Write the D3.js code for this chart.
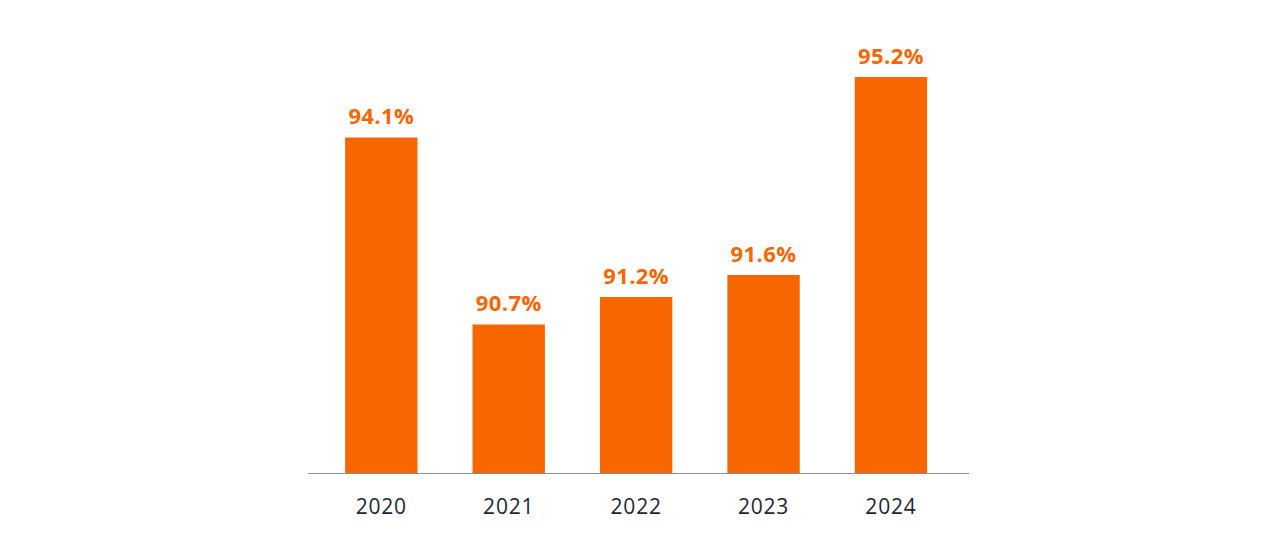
<!DOCTYPE html>
<html><head><meta charset="utf-8">
<script src="https://cdn.jsdelivr.net/npm/d3@7"></script>
<style>html,body{margin:0;padding:0;background:#fff;}svg{display:block;}</style>
</head><body>
<svg id="chart" width="1280" height="558"></svg>
<script>
const years = ["2020", "2021", "2022", "2023", "2024"];
const values = [94.1, 90.7, 91.2, 91.6, 95.2];
const labels = ["94.1%", "90.7%", "91.2%", "91.6%", "95.2%"];

const svg = d3.select("#chart");
const baseY = 473;
const x = d3.scaleBand().domain(years).range([308, 969])
  .paddingInner(0.432).paddingOuter(0.31).align(0.47);
const y = d3.scaleLinear().domain([88, 96]).range([baseY, baseY - 8 * 55.0]);

const orange = "#F86600";

svg.selectAll("rect.bar").data(years).join("rect")
  .attr("class", "bar")
  .attr("x", d => x(d))
  .attr("width", x.bandwidth())
  .attr("y", (d, i) => y(values[i]))
  .attr("height", (d, i) => baseY - y(values[i]))
  .attr("fill", orange);

svg.selectAll("text.val").data(years).join("text")
  .attr("class", "val")
  .attr("x", d => x(d) + x.bandwidth() / 2)
  .attr("y", (d, i) => y(values[i]) - 13.5)
  .attr("text-anchor", "middle")
  .attr("font-family", "'Open Sans', sans-serif")
  .attr("font-weight", 700)
  .attr("font-size", 22)
  .attr("letter-spacing", 0.4)
  .attr("fill", orange)
  .text((d, i) => labels[i]);

const axis = d3.axisBottom(x).tickSize(0).tickPadding(0);
const g = svg.append("g").attr("transform", `translate(0,${baseY})`).call(axis);
g.select(".domain").attr("stroke", "#8a8f94").attr("stroke-width", 1)
  .attr("d", "M308,0.5H969");
g.selectAll(".tick text")
  .attr("y", 41)
  .attr("dy", 0)
  .attr("font-family", "'Open Sans', sans-serif")
  .attr("font-size", 21)
  .attr("letter-spacing", 0.8)
  .attr("fill", "#1c2733");
</script>
</body></html>
